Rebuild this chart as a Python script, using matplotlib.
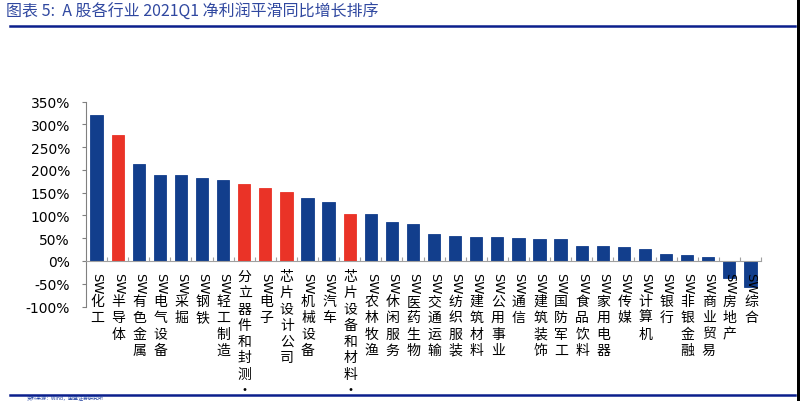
import matplotlib
matplotlib.use("Agg")
import matplotlib.pyplot as plt
from matplotlib.patches import Rectangle
from matplotlib.lines import Line2D
from matplotlib.ticker import FixedLocator

plt.rcParams['font.family'] = ['Noto Sans CJK SC', 'DejaVu Sans']

# ---- data ----
categories = ["SW化工", "SW半导体", "SW有色金属", "SW电气设备", "SW采掘", "SW钢铁",
              "SW轻工制造", "分立器件和封测·", "SW电子", "芯片设计公司", "SW机械设备",
              "SW汽车", "芯片设备和材料·", "SW农林牧渔", "SW休闲服务", "SW医药生物",
              "SW交通运输", "SW纺织服装", "SW建筑材料", "SW公用事业", "SW通信",
              "SW建筑装饰", "SW国防军工", "SW食品饮料", "SW家用电器", "SW传媒",
              "SW计算机", "SW银行", "SW非银金融", "SW商业贸易", "SW房地产", "SW综合"]
values = [321, 276, 212, 188, 188, 181, 177, 169, 160, 152, 138, 129, 104, 103,
          85, 81, 60, 55, 53, 52, 50, 49, 48, 32, 32, 30, 27, 15, 14, 9, -38, -58]
highlight = [False, True, False, False, False, False, False, True, True, True, False,
             False, True, False, False, False, False, False, False, False, False,
             False, False, False, False, False, False, False, False, False, False, False]
yticks = [-100, -50, 0, 50, 100, 150, 200, 250, 300, 350]
ytick_labels = [f"{v}%" for v in yticks]
title = "图表 5:  A 股各行业 2021Q1 净利润平滑同比增长排序"
source = "资料来源：Wind，国盛证券研究所"

BLUE = "#123E8C"
RED = "#EA3327"
NAVY = "#0B1F8C"

W, H = 800, 402
fig = plt.figure(figsize=(W / 100, H / 100), dpi=100)
ax = fig.add_axes([86 / W, 1 - 307.5 / H, (761 - 86) / W, (307.5 - 102.5) / H])

x = list(range(len(categories)))
colors = [RED if h else BLUE for h in highlight]
ax.bar(x, values, width=0.58, color=colors, edgecolor=colors, linewidth=0.6, zorder=2)

ax.set_xlim(-0.5, len(categories) - 0.5)
ax.set_ylim(-100, 350)
ax.set_yticks(yticks)
ax.set_yticklabels(ytick_labels, family=['DejaVu Sans'], fontsize=10)
ax.tick_params(axis='y', direction='out', length=3, width=0.8, color='#808080', pad=8.5)

# x axis at zero, minor ticks between categories
ax.spines['bottom'].set_position(('data', 0))
ax.spines['bottom'].set_color('#a0a0a0')
ax.spines['left'].set_color('#808080')
ax.spines['top'].set_visible(False)
ax.spines['right'].set_visible(False)
ax.set_xticks([])
ax.xaxis.set_minor_locator(FixedLocator([i + 0.5 for i in x]))
ax.tick_params(axis='x', which='minor', direction='in', length=3, width=0.8, color='#a0a0a0')
ax.tick_params(axis='x', which='major', length=0)

# vertical category labels: "SW" rotated, CJK characters stacked upright
step = 16.3
for i, name in enumerate(categories):
    if name.startswith("SW"):
        ax.annotate("SW", xy=(i, 0), xycoords='data', xytext=(0.5, -11),
                    textcoords='offset pixels', rotation=-90, ha='center', va='top',
                    fontsize=9.5, family=['DejaVu Sans'], annotation_clip=False, zorder=5)
        rest = name[2:]
        first = 40
    else:
        rest = name
        first = 15
    for j, ch in enumerate(rest):
        ax.annotate(ch, xy=(i, 0), xycoords='data', xytext=(0.5, -(first + j * step)),
                    textcoords='offset pixels', ha='center', va='center',
                    fontsize=10, annotation_clip=False, zorder=5)

# title, rules, source, border
fig.text(6 / W, 1 - 12 / H, title, fontsize=11.5, color="#3048A0",
         ha='left', va='center')
fig.add_artist(Line2D([10 / W, 795 / W], [1 - 27 / H, 1 - 27 / H], color=NAVY, lw=1.8))
fig.add_artist(Line2D([10 / W, 795 / W], [1 - 396 / H, 1 - 396 / H], color=NAVY, lw=1.8))
fig.text(27 / W, 1 - 401.5 / H, source, fontsize=3.6, color="#2040A0", ha='left', va='bottom')
fig.add_artist(Rectangle((797 / W, 0), 3 / W, 1, transform=fig.transFigure,
                         color='black', lw=0))

fig.savefig("out.png", dpi=100)
